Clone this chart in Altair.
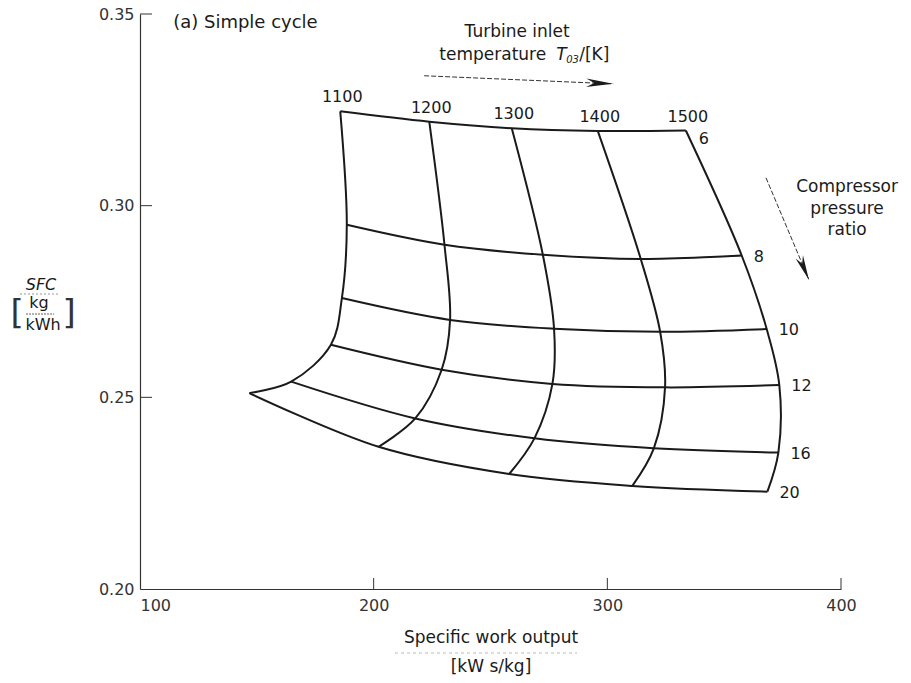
import altair as alt
import pandas as pd

# ---- data (carpet plot, simple cycle) ----
TIT = [1100, 1200, 1300, 1400, 1500]          # turbine inlet temperature [K]
PR = [6, 8, 10, 12, 16, 20]                    # compressor pressure ratio

# specific work output [kW s/kg] and SFC [kg/kWh], one value per pressure ratio
work_1100 = [185.7, 188.5, 186.4, 181.7, 164.7, 146.8]
sfc_1100 = [0.3246, 0.2950, 0.2759, 0.2637, 0.2541, 0.2511]
work_1200 = [223.8, 230.3, 232.7, 229.1, 217.8, 202.1]
sfc_1200 = [0.3219, 0.2898, 0.2702, 0.2572, 0.2445, 0.2371]
work_1300 = [259.1, 272.4, 277.2, 276.5, 268.8, 258.0]
sfc_1300 = [0.3202, 0.2872, 0.2679, 0.2535, 0.2393, 0.2300]
work_1400 = [295.9, 314.3, 322.6, 324.7, 319.9, 310.7]
sfc_1400 = [0.3195, 0.2861, 0.2671, 0.2526, 0.2367, 0.2269]
work_1500 = [333.6, 357.5, 368.2, 373.6, 373.2, 368.5]
sfc_1500 = [0.3196, 0.2870, 0.2678, 0.2532, 0.2356, 0.2254]

X_TICKS = [100, 200, 300, 400]
Y_TICKS = [0.20, 0.25, 0.30, 0.35]
X_INNER_TICKS = [200, 300, 400]
Y_INNER_TICKS = [0.25, 0.30, 0.35]

# ---- build long table ----
works = {1100: work_1100, 1200: work_1200, 1300: work_1300, 1400: work_1400, 1500: work_1500}
sfcs = {1100: sfc_1100, 1200: sfc_1200, 1300: sfc_1300, 1400: sfc_1400, 1500: sfc_1500}
rows = []
for ti, t in enumerate(TIT):
    for pi, p in enumerate(PR):
        rows.append({"T": t, "P": p, "ti": ti, "pi": pi,
                     "work": works[t][pi], "sfc": sfcs[t][pi],
                     "Tlab": str(t), "Plab": str(p)})
df = pd.DataFrame(rows)

FONT = "DejaVu Sans"
INK = "#1a1a1a"

xs = alt.Scale(domain=[100, 400], nice=False, zero=False)
ys = alt.Scale(domain=[0.20, 0.35], nice=False, zero=False)

base = alt.Chart(df)

tit_lines = base.mark_line(color=INK, strokeWidth=2, interpolate="catmull-rom").encode(
    x=alt.X("work:Q", scale=xs, axis=alt.Axis(
        values=X_TICKS, ticks=False, grid=False, domainColor="#333", domainWidth=1.2,
        labelFont=FONT, labelFontSize=16, labelColor="#333", labelPadding=8,
        labelAlign=alt.condition("datum.value == 100", alt.value("left"), alt.value("center")),
        title=["Specific work output", "[kW s/kg]"], titleFont=FONT, titleFontSize=17,
        titleFontWeight="normal", titleColor=INK, titlePadding=16, titleLineHeight=29)),
    y=alt.Y("sfc:Q", scale=ys, axis=alt.Axis(
        values=Y_TICKS, format=".2f", ticks=False, grid=False, domainColor="#333",
        domainWidth=1.2, labelFont=FONT, labelFontSize=16, labelColor="#333",
        labelPadding=6, title=None)),
    detail="T:N",
    order="pi:Q",
)

pr_lines = base.mark_line(color=INK, strokeWidth=2, interpolate="catmull-rom").encode(
    x="work:Q", y="sfc:Q", detail="P:N", order="ti:Q")

tit_labels = base.transform_filter("datum.P == 6").mark_text(
    font=FONT, fontSize=16, color=INK, dy=-14, dx=2, align="center", baseline="middle"
).encode(x="work:Q", y="sfc:Q", text="Tlab:N")

pr_labels = base.transform_filter("datum.T == 1500 && datum.P != 6").mark_text(
    font=FONT, fontSize=16, color=INK, dx=12, dy=1, align="left", baseline="middle"
).encode(x="work:Q", y="sfc:Q", text="Plab:N")

pr_label6 = base.transform_filter("datum.T == 1500 && datum.P == 6").mark_text(
    font=FONT, fontSize=16, color=INK, dx=13, dy=8, align="left", baseline="middle"
).encode(x="work:Q", y="sfc:Q", text="Plab:N")

# inward tick marks
yt = alt.Chart(pd.DataFrame({"sfc": Y_INNER_TICKS})).mark_rule(color="#333", strokeWidth=1).encode(
    y="sfc:Q", x=alt.value(0), x2=alt.value(12))
xt = alt.Chart(pd.DataFrame({"work": X_INNER_TICKS})).mark_rule(color="#333", strokeWidth=1).encode(
    x="work:Q", y=alt.value(575), y2=alt.value(564))

# annotations placed in data units
ann = pd.DataFrame({
    "text": ["(a) Simple cycle", "Turbine inlet", "Compressor", "pressure", "ratio"],
    "work": [114.2, 261.4, 402.6, 402.6, 402.6],
    "sfc": [0.3477, 0.3452, 0.3049, 0.2992, 0.2937],
    "al": ["left", "center", "center", "center", "center"],
})
ann_left = alt.Chart(ann[ann.al == "left"]).mark_text(
    font=FONT, fontSize=18, color=INK, align="left", baseline="middle"
).encode(x="work:Q", y="sfc:Q", text="text:N")
ann_center = alt.Chart(ann[ann.al == "center"]).mark_text(
    font=FONT, fontSize=17, color=INK, align="center", baseline="middle"
).encode(x="work:Q", y="sfc:Q", text="text:N")

# "temperature T03/[K]" composed from pieces around one anchor
anchor = pd.DataFrame({"work": [278.1], "sfc": [0.3392]})
t_a = alt.Chart(anchor).mark_text(font=FONT, fontSize=17, color=INK, align="right",
                                  baseline="middle", dx=-10).encode(
    x="work:Q", y="sfc:Q", text=alt.value("temperature"))
t_b = alt.Chart(anchor).mark_text(font=FONT, fontSize=17, color=INK, align="left",
                                  baseline="middle", fontStyle="italic").encode(
    x="work:Q", y="sfc:Q", text=alt.value("T"))
t_c = alt.Chart(anchor).mark_text(font=FONT, fontSize=10, color=INK, align="left",
                                  baseline="middle", fontStyle="italic", dx=10, dy=5).encode(
    x="work:Q", y="sfc:Q", text=alt.value("03"))
t_d = alt.Chart(anchor).mark_text(font=FONT, fontSize=17, color=INK, align="left",
                                  baseline="middle", dx=23).encode(
    x="work:Q", y="sfc:Q", text=alt.value("/[K]"))

# arrows
arr1 = pd.DataFrame({"work": [221.6, 302.5], "sfc": [0.33389, 0.33178], "o": [0, 1]})
arr2 = pd.DataFrame({"work": [367.9, 386.3], "sfc": [0.30727, 0.28064], "o": [0, 1]})
HEAD = "M0,0 L-2,-0.32 L-1.4,0 L-2,0.32 Z"
a1_line = alt.Chart(arr1).mark_line(color="#333", strokeWidth=1, strokeDash=[5, 2]).encode(
    x="work:Q", y="sfc:Q", order="o:Q")
a1_head = alt.Chart(arr1[arr1.o == 1]).mark_point(
    shape=HEAD, size=729, filled=True, color=INK, opacity=1, angle=2.4).encode(
    x="work:Q", y="sfc:Q")
a2_line = alt.Chart(arr2).mark_line(color="#333", strokeWidth=1, strokeDash=[5, 2]).encode(
    x="work:Q", y="sfc:Q", order="o:Q")
a2_head = alt.Chart(arr2[arr2.o == 1]).mark_point(
    shape=HEAD, size=625, filled=True, color=INK, opacity=1, angle=67.1).encode(
    x="work:Q", y="sfc:Q")

# y-axis title block (outside the plot, pixel placement)
one = pd.DataFrame({"k": [0]})
def ptxt(txt, px, py, size=16, style="normal", color=INK):
    return alt.Chart(one).mark_text(font=FONT, fontSize=size, fontStyle=style, color=color,
                                    align="center", baseline="middle").encode(
        x=alt.value(px), y=alt.value(py), text=alt.value(txt))

def prule(x1, x2, y, color="#555", dash=None, w=1):
    kw = dict(color=color, strokeWidth=w)
    if dash:
        kw["strokeDash"] = dash
    return alt.Chart(one).mark_rule(**kw).encode(
        x=alt.value(x1), x2=alt.value(x2), y=alt.value(y))

ytitle = [
    ptxt("SFC", -99, 271, 16, "italic"),
    prule(-120, -80, 280, "#999", [2, 2]),
    ptxt("kg", -101, 289, 16),
    prule(-114, -86, 300, "#666", [2, 1]),
    ptxt("kWh", -97, 311, 16),
    ptxt("[", -123, 300, 34, color="#333"),
    ptxt("]", -71, 300, 34, color="#333"),
    prule(255, 437, 639, "#bbb", [3, 3]),
]

chart = alt.layer(
    tit_lines, pr_lines, tit_labels, pr_labels, pr_label6, yt, xt,
    ann_left, ann_center, t_a, t_b, t_c, t_d,
    a1_line, a1_head, a2_line, a2_head, *ytitle
).properties(
    width=701, height=575,
    autosize=alt.AutoSizeParams(type="none"),
    padding={"left": 140, "top": 14, "right": 70, "bottom": 94},
    background="white",
).configure_view(stroke=None)

chart.save("out.html", embed_options={"renderer": "svg", "actions": False})
